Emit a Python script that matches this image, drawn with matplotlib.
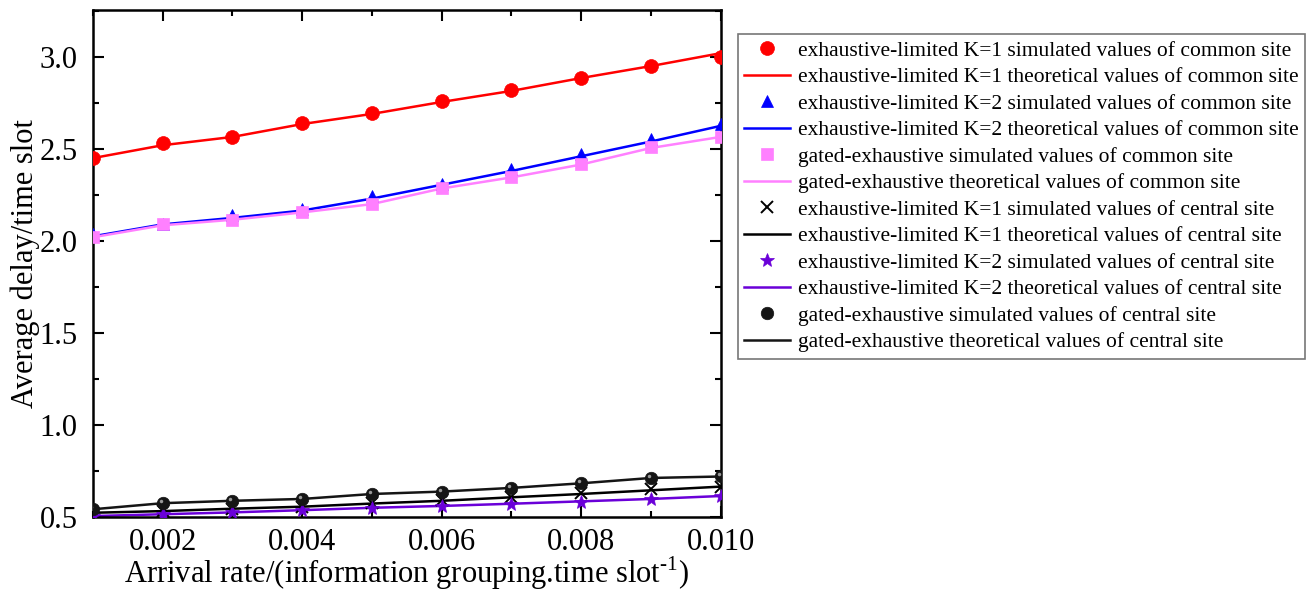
import matplotlib
matplotlib.use("Agg")
import matplotlib.pyplot as plt
from matplotlib.ticker import MultipleLocator
from matplotlib.transforms import ScaledTranslation

plt.rcParams['font.family'] = ['Liberation Serif', 'DejaVu Serif']
plt.rcParams['mathtext.fontset'] = 'custom'
plt.rcParams['mathtext.rm'] = 'Liberation Serif'

arrival_rate = [0.001, 0.002, 0.003, 0.004, 0.005, 0.006, 0.007, 0.008, 0.009, 0.010]

el1_common_sim = [2.45, 2.53, 2.565, 2.64, 2.695, 2.76, 2.82, 2.885, 2.95, 3.00]
el1_common_theo = [2.45, 2.52, 2.565, 2.635, 2.69, 2.755, 2.815, 2.885, 2.95, 3.02]
el2_common_sim = [2.04, 2.09, 2.14, 2.175, 2.245, 2.31, 2.39, 2.47, 2.555, 2.635]
el2_common_theo = [2.025, 2.09, 2.125, 2.165, 2.23, 2.305, 2.38, 2.46, 2.54, 2.625]
ge_common_sim = [2.02, 2.09, 2.115, 2.155, 2.20, 2.285, 2.35, 2.42, 2.51, 2.565]
ge_common_theo = [2.02, 2.085, 2.115, 2.155, 2.20, 2.285, 2.345, 2.415, 2.505, 2.565]
el1_central_sim = [0.52, 0.53, 0.545, 0.555, 0.575, 0.59, 0.61, 0.63, 0.65, 0.665]
el1_central_theo = [0.523, 0.532, 0.545, 0.556, 0.573, 0.588, 0.607, 0.625, 0.645, 0.665]
el2_central_sim = [0.505, 0.515, 0.525, 0.537, 0.55, 0.56, 0.57, 0.583, 0.598, 0.614]
el2_central_theo = [0.505, 0.515, 0.525, 0.537, 0.55, 0.56, 0.572, 0.585, 0.598, 0.614]
ge_central_sim = [0.542, 0.578, 0.588, 0.598, 0.627, 0.638, 0.658, 0.683, 0.714, 0.722]
ge_central_theo = [0.542, 0.575, 0.588, 0.598, 0.625, 0.638, 0.658, 0.683, 0.712, 0.72]

labels = [
    "exhaustive-limited K=1 simulated values of common site",
    "exhaustive-limited K=1 theoretical values of common site",
    "exhaustive-limited K=2 simulated values of common site",
    "exhaustive-limited K=2 theoretical values of common site",
    "gated-exhaustive simulated values of common site",
    "gated-exhaustive theoretical values of common site",
    "exhaustive-limited K=1 simulated values of central site",
    "exhaustive-limited K=1 theoretical values of central site",
    "exhaustive-limited K=2 simulated values of central site",
    "exhaustive-limited K=2 theoretical values of central site",
    "gated-exhaustive simulated values of central site",
    "gated-exhaustive theoretical values of central site",
]

fig = plt.figure(figsize=(13.09, 5.92), dpi=100)
ax = fig.add_axes([0.0710, 0.1267, 0.4795, 0.8565])

purple = '#6a00d8'
pink = '#ff80ff'
ball = '#151515'
lw = 1.8
series = [
    (el1_common_sim, el1_common_theo, 'red', 'o', 10),
    (el2_common_sim, el2_common_theo, 'blue', '^', 9),
    (ge_common_sim, ge_common_theo, pink, 's', 9),
    (el1_central_sim, el1_central_theo, 'black', 'x', 8),
    (el2_central_sim, el2_central_theo, purple, '*', 10),
    (ge_central_sim, ge_central_theo, ball, 'o', 9),
]
highlight = ax.transData + ScaledTranslation(-1.5 / 72, 1.5 / 72, fig.dpi_scale_trans)
handles = []
for sim, theo, c, m, ms in series:
    ln, = ax.plot(arrival_rate, theo, color=c, lw=lw, zorder=2)
    mk, = ax.plot(arrival_rate, sim, linestyle='none', marker=m, color=c,
                  markersize=ms, markeredgewidth=1.4 if m == 'x' else 0.5, zorder=3)
    if m == 'o' and c == ball:
        ax.plot(arrival_rate, sim, linestyle='none', marker='o', color='#9a9a9a',
                markersize=2.5, markeredgewidth=0, zorder=4, transform=highlight)
    handles += [mk, ln]

ax.set_xlim(0.001, 0.010)
ax.set_ylim(0.5, 3.255)
ax.xaxis.set_major_locator(MultipleLocator(0.002))
ax.xaxis.set_minor_locator(MultipleLocator(0.001))
ax.yaxis.set_major_locator(MultipleLocator(0.5))
ax.yaxis.set_minor_locator(MultipleLocator(0.25))
ax.xaxis.set_major_formatter(matplotlib.ticker.FormatStrFormatter('%.3f'))
ax.yaxis.set_major_formatter(matplotlib.ticker.FormatStrFormatter('%.1f'))
ax.tick_params(which='both', direction='in', top=True, right=True, width=1.5,
               labelsize=22)
ax.tick_params(axis='x', which='major', pad=8)
ax.tick_params(axis='y', which='major', pad=11)
ax.tick_params(which='major', length=8)
ax.tick_params(which='minor', length=4)
for s in ax.spines.values():
    s.set_linewidth(1.8)

ax.set_xlabel("Arrival rate/(information grouping.time slot$^{\\text{-1}}$)",
              fontsize=22, labelpad=-2)
ax.set_ylabel("Average delay/time slot", fontsize=22, labelpad=0)

leg = fig.legend(handles, labels, loc='upper left',
                 bbox_to_anchor=(738 / 1309, 1 - 34 / 592),
                 bbox_transform=fig.transFigure, fontsize=15.5, frameon=True,
                 fancybox=False, edgecolor='#555555', handlelength=2.1,
                 labelspacing=0.3, borderpad=0.3, handletextpad=0.4,
                 borderaxespad=0)
leg.get_frame().set_linewidth(1.2)

fig.savefig("out.png", dpi=100)
